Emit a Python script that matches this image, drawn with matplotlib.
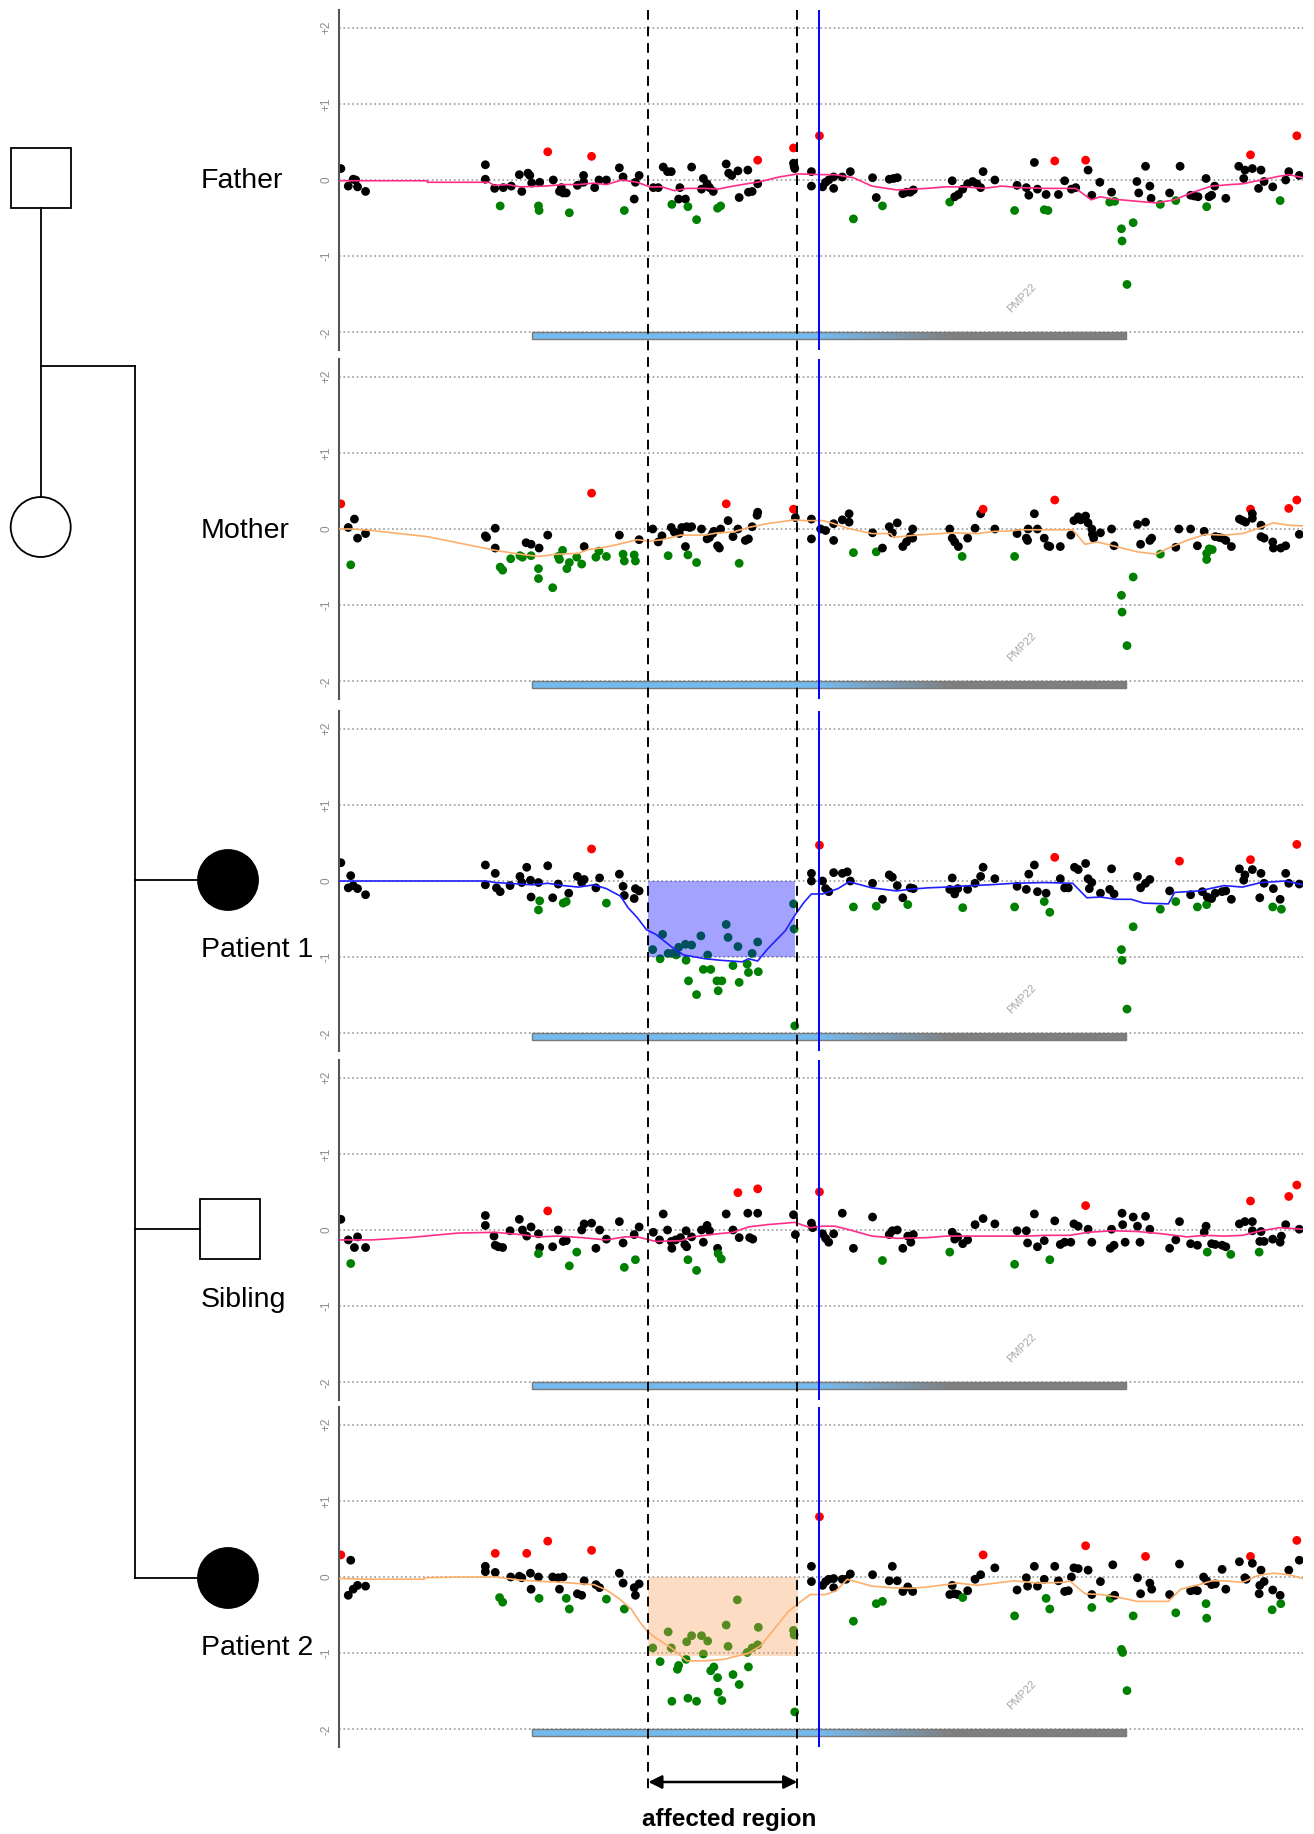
import numpy as np
import matplotlib.pyplot as plt
import matplotlib.transforms as mtransforms
from matplotlib.patches import Rectangle, Circle, FancyArrowPatch
from matplotlib.lines import Line2D

plt.rcParams['font.family'] = ['Liberation Sans', 'DejaVu Sans']

# probe position (array index units) and log2 ratio for each family member
father_probes = [
    (10, 0.15), (22, -0.08), (30, 0.01), (34, 0.00), (37, -0.09), (50, -0.15),
    (244, 0.20), (244, 0.01), (259, -0.11), (268, -0.34), (273, -0.10), (286, -0.08),
    (299, 0.07), (303, -0.15), (313, 0.09), (316, 0.06), (319, -0.04), (330, -0.34),
    (331, -0.40), (332, -0.03), (345, 0.37), (354, 0.00), (364, -0.15), (367, -0.10),
    (370, -0.17), (375, -0.17), (380, -0.43), (393, -0.07), (403, 0.06), (403, -0.03),
    (416, 0.31), (421, -0.10), (428, 0.00), (440, 0.00), (461, 0.16), (467, 0.04),
    (469, -0.40), (485, -0.25), (487, -0.03), (493, 0.06),
    (516, -0.10), (524, -0.10), (532, 0.17), (539, 0.11), (545, 0.11), (546, -0.32),
    (557, -0.25), (559, -0.10), (568, -0.25), (572, -0.35), (578, 0.17), (586, -0.52),
    (594, -0.12), (597, 0.02), (603, -0.05), (607, -0.10), (613, -0.15), (620, -0.37),
    (625, -0.34), (634, 0.21), (638, 0.09), (643, 0.06), (653, 0.12), (655, -0.23),
    (669, 0.13), (670, -0.16), (676, -0.15), (685, 0.26), (685, -0.05),
    (743, 0.42), (743, 0.22), (744, 0.18), (745, 0.15), (772, 0.11), (772, -0.08),
    (785, 0.58), (790, -0.09), (795, -0.03), (800, 0.00), (808, 0.04), (808, -0.11),
    (822, 0.04), (835, 0.11), (840, -0.51), (871, 0.03), (877, -0.23), (887, -0.34),
    (898, 0.01), (905, 0.02), (911, 0.03), (920, -0.18), (926, -0.16), (932, -0.16),
    (937, -0.13), (996, -0.29), (1000, -0.01), (1004, -0.22), (1010, -0.19), (1017, -0.12),
    (1025, -0.05), (1033, -0.02), (1040, -0.05), (1046, -0.10), (1050, 0.11), (1069, 0.00),
    (1101, -0.40), (1105, -0.07), (1120, -0.10), (1124, -0.20), (1133, 0.23), (1138, -0.12),
    (1149, -0.39), (1152, -0.19), (1155, -0.40), (1166, 0.25), (1172, -0.19), (1182, -0.01),
    (1193, -0.12), (1200, -0.10), (1216, 0.26), (1220, 0.13), (1226, -0.20), (1239, -0.03),
    (1255, -0.29), (1258, -0.16), (1263, -0.28), (1274, -0.64), (1275, -0.80), (1283, -1.37),
    (1293, -0.56), (1299, -0.02), (1302, -0.17), (1313, 0.18), (1320, -0.08), (1322, -0.24),
    (1337, -0.32), (1352, -0.17), (1362, -0.27), (1369, 0.18), (1386, -0.20), (1392, -0.21),
    (1398, -0.22), (1411, 0.02), (1412, -0.35), (1416, -0.22), (1420, -0.20), (1425, -0.08),
    (1443, -0.24), (1464, 0.18), (1472, 0.02), (1474, 0.13), (1483, 0.33), (1486, 0.15),
    (1496, -0.11), (1500, 0.13), (1505, -0.02), (1519, -0.09), (1531, -0.27), (1540, 0.00),
    (1545, 0.11), (1558, 0.58), (1562, 0.06),
]

mother_probes = [
    (10, 0.33), (22, 0.02), (26, -0.47), (32, 0.13), (37, -0.12), (50, -0.06),
    (244, -0.09), (246, -0.11), (260, 0.01), (260, -0.25), (268, -0.50), (272, -0.54),
    (285, -0.39), (300, -0.35), (304, -0.37), (310, -0.18), (318, -0.20), (318, -0.35),
    (330, -0.52), (331, -0.25), (330, -0.65), (345, -0.08), (353, -0.77), (362, -0.36),
    (364, -0.40), (369, -0.28), (376, -0.52), (380, -0.44), (392, -0.37), (400, -0.46),
    (404, -0.23), (416, 0.47), (423, -0.37), (428, -0.29), (440, -0.36), (461, -0.08),
    (467, -0.33), (469, -0.42), (485, -0.34), (487, -0.42), (493, -0.14),
    (515, 0.00), (524, -0.17), (530, -0.09), (540, -0.35), (545, 0.02), (550, -0.04),
    (558, -0.06), (562, 0.02), (570, 0.03), (568, -0.23), (575, 0.02), (578, 0.03),
    (572, -0.34), (586, -0.44), (594, 0.00), (603, -0.13), (607, -0.11), (612, -0.06),
    (614, -0.03), (620, -0.22), (623, -0.25), (625, 0.00), (634, 0.33), (637, 0.11),
    (645, -0.10), (653, 0.00), (655, -0.45), (665, -0.15), (670, -0.13), (676, 0.03),
    (685, 0.22), (684, 0.18), (743, 0.26), (746, 0.15), (772, -0.13), (772, 0.13),
    (787, 0.00), (795, -0.02), (808, 0.07), (808, -0.15), (822, 0.12), (833, 0.20),
    (833, 0.09), (840, -0.31), (871, -0.05), (877, -0.30), (887, -0.25), (898, 0.03),
    (903, -0.05), (911, 0.08), (920, -0.23), (926, -0.17), (932, -0.10), (936, 0.00),
    (936, -0.12), (996, 0.00), (1000, -0.12), (1004, -0.17), (1010, -0.23), (1016, -0.36),
    (1025, -0.12), (1037, 0.01), (1046, 0.20), (1050, 0.26), (1069, 0.00), (1101, -0.36),
    (1105, -0.06), (1120, -0.12), (1122, -0.15), (1123, 0.00), (1133, 0.20), (1138, 0.00),
    (1149, -0.12), (1155, -0.22), (1158, -0.23), (1166, 0.38), (1175, -0.23), (1192, -0.08),
    (1197, 0.11), (1204, 0.16), (1208, 0.12), (1216, 0.17), (1220, 0.08), (1226, 0.00),
    (1227, -0.07), (1229, -0.12), (1240, -0.05), (1258, 0.00), (1262, -0.22), (1274, -0.87),
    (1275, -1.09), (1283, -1.53), (1293, -0.63), (1300, 0.06), (1305, -0.20), (1313, 0.09),
    (1320, -0.15), (1323, -0.12), (1337, -0.33), (1362, -0.24), (1367, 0.00), (1386, 0.00),
    (1397, -0.22), (1408, -0.03), (1412, -0.32), (1412, -0.40), (1416, -0.26), (1421, -0.27),
    (1426, -0.10), (1432, -0.11), (1437, -0.12), (1443, -0.15), (1452, -0.23), (1465, 0.13),
    (1470, 0.11), (1475, 0.09), (1483, 0.26), (1486, 0.20), (1486, 0.14), (1500, 0.05),
    (1500, -0.10), (1505, -0.12), (1519, -0.17), (1520, -0.25), (1532, -0.25), (1540, -0.22),
    (1545, 0.27), (1558, 0.38), (1562, -0.07),
]

patient1_probes = [
    (10, 0.24), (22, -0.09), (26, 0.07), (30, -0.06), (37, -0.10), (50, -0.18),
    (244, 0.21), (244, -0.05), (260, 0.10), (262, -0.09), (268, -0.14), (284, -0.06),
    (300, 0.06), (303, -0.02), (311, 0.18), (317, 0.01), (318, -0.21), (330, -0.02),
    (332, -0.26), (330, -0.38), (345, 0.20), (353, -0.22), (362, -0.04), (370, -0.29),
    (375, -0.27), (379, -0.16), (393, 0.06), (400, -0.02), (404, 0.02), (416, 0.42),
    (423, -0.09), (429, 0.04), (440, -0.29), (461, 0.09), (467, -0.07), (469, -0.19),
    (485, -0.23), (487, -0.10), (493, -0.13),
    (515, -0.90), (527, -1.02), (531, -0.70), (540, -0.95), (547, -0.95), (553, -0.97),
    (557, -0.87), (568, -0.83), (569, -1.04), (573, -1.31), (578, -0.84), (586, -1.49),
    (593, -0.72), (597, -1.16), (604, -0.97), (609, -1.16), (619, -1.31), (621, -1.44),
    (627, -1.31), (634, -0.57), (637, -0.74), (645, -1.11), (653, -0.86), (655, -1.33),
    (668, -1.09), (670, -1.20), (676, -0.95), (685, -0.80), (686, -1.19), (743, -0.30),
    (744, -0.63), (745, -1.90),
    (772, 0.10), (772, 0.00), (785, 0.47), (790, 0.00), (795, -0.10), (800, -0.14),
    (808, 0.11), (822, 0.10), (830, 0.12), (835, 0.00), (840, -0.34), (871, -0.03),
    (877, -0.33), (887, -0.24), (898, 0.08), (903, 0.05), (911, -0.06), (920, -0.22),
    (928, -0.31), (932, -0.09), (937, -0.10), (996, -0.11), (1000, 0.04), (1004, -0.17),
    (1009, -0.10), (1017, -0.35), (1025, -0.11), (1037, -0.03), (1046, 0.06), (1050, 0.18),
    (1069, 0.03), (1101, -0.34), (1105, -0.07), (1120, -0.11), (1124, 0.09), (1133, 0.21),
    (1138, -0.14), (1149, -0.27), (1152, -0.16), (1158, -0.41), (1166, 0.31), (1175, 0.03),
    (1182, -0.09), (1188, -0.09), (1198, 0.18), (1204, 0.15), (1216, 0.23), (1220, 0.03),
    (1222, -0.10), (1226, -0.02), (1240, -0.16), (1255, -0.11), (1258, 0.16), (1262, -0.17),
    (1274, -0.90), (1275, -1.04), (1283, -1.68), (1293, -0.60), (1300, 0.06), (1305, -0.09),
    (1313, -0.03), (1320, 0.02), (1337, -0.37), (1352, -0.13), (1362, -0.27), (1368, 0.26),
    (1386, -0.18), (1397, -0.34), (1405, -0.14), (1412, -0.31), (1413, -0.21), (1420, -0.23),
    (1426, -0.16), (1437, -0.14), (1443, -0.13), (1452, -0.24), (1465, 0.16), (1472, 0.01),
    (1474, 0.08), (1483, 0.28), (1486, 0.15), (1498, -0.22), (1500, 0.10), (1505, -0.03),
    (1519, -0.34), (1520, -0.10), (1531, -0.24), (1533, -0.37), (1540, 0.10), (1545, -0.03),
    (1558, 0.48), (1562, -0.04),
]

sibling_probes = [
    (10, 0.14), (22, -0.13), (26, -0.44), (32, -0.23), (37, -0.09), (50, -0.23),
    (244, 0.19), (244, 0.06), (258, -0.08), (260, -0.20), (265, -0.22), (272, -0.23),
    (284, -0.01), (299, 0.14), (304, 0.00), (311, -0.08), (318, 0.04), (330, -0.05),
    (332, -0.23), (330, -0.31), (345, 0.25), (353, -0.22), (362, 0.00), (370, -0.15),
    (375, -0.14), (380, -0.47), (392, -0.29), (400, 0.00), (404, 0.08), (416, 0.09),
    (423, -0.24), (429, 0.00), (440, -0.12), (461, 0.11), (467, -0.17), (469, -0.49),
    (485, -0.06), (487, -0.39), (493, 0.04),
    (516, -0.03), (526, -0.13), (532, 0.21), (539, 0.00), (545, -0.15), (546, -0.24),
    (552, -0.13), (560, -0.10), (567, -0.19), (569, -0.01), (570, -0.22), (572, -0.39),
    (578, -0.09), (586, -0.53), (594, 0.00), (597, -0.16), (603, 0.06), (607, -0.01),
    (620, -0.24), (621, -0.31), (626, -0.38), (634, 0.21), (645, 0.00), (653, 0.49),
    (655, -0.10), (669, 0.22), (672, -0.10), (677, -0.12), (685, 0.54), (685, 0.22),
    (743, 0.20), (746, -0.06), (772, 0.09), (774, 0.03), (785, 0.50), (790, -0.05),
    (795, -0.11), (800, -0.16), (808, -0.05), (822, 0.22), (840, -0.24), (871, 0.17),
    (887, -0.40), (898, -0.06), (903, -0.01), (911, 0.00), (920, -0.24), (928, -0.08),
    (933, -0.16), (937, -0.06), (996, -0.29), (1000, -0.03), (1004, -0.12), (1009, -0.09),
    (1017, -0.18), (1025, -0.13), (1037, 0.07), (1050, 0.15), (1069, 0.08), (1101, -0.45),
    (1105, -0.01), (1120, -0.01), (1122, -0.17), (1133, 0.21), (1138, -0.22), (1149, -0.14),
    (1158, -0.39), (1166, 0.12), (1175, -0.19), (1182, -0.16), (1192, -0.16), (1197, 0.08),
    (1204, 0.05), (1216, 0.32), (1220, 0.01), (1226, -0.16), (1258, 0.01), (1256, -0.24),
    (1262, -0.20), (1275, 0.22), (1276, 0.07), (1280, -0.16), (1293, 0.17), (1300, 0.05),
    (1304, -0.16), (1313, 0.18), (1320, 0.01), (1352, -0.24), (1362, -0.13), (1368, 0.11),
    (1386, -0.18), (1397, -0.20), (1408, -0.03), (1411, 0.05), (1413, -0.29), (1420, -0.18),
    (1426, -0.19), (1437, -0.20), (1443, -0.22), (1451, -0.32), (1465, 0.08), (1474, 0.11),
    (1483, 0.38), (1486, 0.11), (1486, -0.01), (1497, -0.29), (1498, -0.15), (1500, -0.02),
    (1505, -0.15), (1519, -0.12), (1531, -0.16), (1533, -0.08), (1540, 0.07), (1545, 0.44),
    (1558, 0.59), (1562, 0.01),
]

patient2_probes = [
    (10, 0.29), (22, -0.24), (26, 0.22), (30, -0.16), (37, -0.11), (50, -0.12),
    (244, 0.14), (244, 0.07), (260, 0.31), (260, 0.06), (267, -0.27), (272, -0.33),
    (285, 0.00), (299, 0.01), (303, -0.01), (311, 0.31), (317, 0.05), (318, -0.16),
    (330, 0.00), (331, -0.28), (345, 0.47), (353, 0.00), (362, -0.01), (364, -0.16),
    (370, 0.00), (375, -0.28), (380, -0.42), (393, -0.22), (400, -0.24), (404, -0.05),
    (416, 0.35), (423, -0.10), (429, -0.14), (440, -0.29), (461, 0.05), (467, -0.08),
    (469, -0.42), (485, -0.14), (487, -0.24), (493, -0.09),
    (515, -0.93), (527, -1.11), (540, -0.72), (545, -0.93), (555, -1.21), (557, -1.16),
    (546, -1.63), (569, -1.08), (570, -0.85), (572, -1.59), (578, -0.77), (586, -1.63),
    (594, -0.77), (597, -1.01), (604, -0.84), (609, -1.23), (614, -1.18), (620, -1.32),
    (621, -1.51), (627, -1.62), (634, -0.63), (637, -0.91), (645, -1.28), (652, -0.30),
    (655, -1.41), (668, -0.99), (670, -1.18), (676, -0.93), (685, -0.89), (686, -0.66),
    (743, -0.70), (744, -0.76), (745, -1.77),
    (772, 0.14), (772, -0.06), (785, 0.79), (790, -0.11), (795, -0.06), (800, -0.03),
    (808, -0.14), (808, -0.02), (822, -0.03), (828, -0.03), (835, 0.04), (840, -0.58),
    (871, 0.03), (877, -0.35), (887, -0.32), (898, -0.05), (903, 0.14), (911, -0.05),
    (920, -0.19), (928, -0.13), (936, -0.19), (996, -0.23), (1000, -0.11), (1004, -0.22),
    (1009, -0.23), (1017, -0.27), (1025, -0.18), (1037, -0.03), (1046, 0.03), (1050, 0.29),
    (1069, 0.12), (1101, -0.51), (1105, -0.17), (1120, -0.01), (1122, -0.12), (1133, 0.14),
    (1138, -0.12), (1149, -0.03), (1152, -0.28), (1158, -0.42), (1166, 0.14), (1172, -0.05),
    (1182, -0.19), (1188, -0.18), (1193, 0.00), (1197, 0.12), (1204, 0.11), (1216, 0.41),
    (1220, 0.09), (1226, -0.23), (1226, -0.40), (1240, -0.06), (1256, -0.28), (1260, 0.16),
    (1263, -0.24), (1274, -0.95), (1276, -0.99), (1283, -1.49), (1293, -0.51), (1300, -0.01),
    (1305, -0.22), (1313, 0.27), (1320, -0.08), (1323, -0.16), (1352, -0.23), (1362, -0.47),
    (1368, 0.17), (1386, -0.18), (1392, -0.17), (1397, -0.18), (1407, 0.00), (1411, -0.35),
    (1412, -0.54), (1412, -0.05), (1420, -0.10), (1426, -0.09), (1437, 0.10), (1443, -0.16),
    (1465, 0.20), (1474, -0.01), (1476, -0.03), (1483, 0.27), (1486, 0.18), (1497, -0.22),
    (1498, -0.11), (1500, 0.09), (1505, -0.06), (1518, -0.43), (1519, -0.17), (1531, -0.24),
    (1532, -0.35), (1545, 0.09), (1558, 0.48), (1562, 0.22),
]

# segmentation / smoothed trace
father_trace = [
    (7, -0.01), (150, -0.01), (150, -0.03), (250, -0.03), (258, -0.07), (280, -0.06),
    (300, -0.09), (340, -0.08), (370, -0.06), (395, -0.06), (420, -0.04), (440, -0.06),
    (465, 0.00), (490, -0.03), (510, -0.09), (530, -0.09), (550, -0.14), (570, -0.11),
    (600, -0.11), (620, -0.12), (645, -0.08), (690, -0.02), (720, 0.04), (750, 0.08),
    (790, 0.07), (810, 0.07), (840, 0.03), (870, -0.08), (910, -0.13), (960, -0.11),
    (990, -0.09), (1020, -0.09), (1050, -0.11), (1080, -0.08), (1110, -0.10), (1150, -0.11),
    (1200, -0.11), (1225, -0.26), (1240, -0.22), (1260, -0.25), (1300, -0.28), (1330, -0.30),
    (1360, -0.26), (1390, -0.16), (1420, -0.08), (1450, -0.06), (1470, -0.05), (1500, 0.00),
    (1530, 0.05), (1545, 0.07), (1568, 0.03),
]
mother_trace = [
    (7, 0.00), (30, 0.00), (60, -0.02), (150, -0.10), (260, -0.28), (300, -0.33),
    (330, -0.36), (360, -0.33), (395, -0.32), (410, -0.27), (430, -0.25), (460, -0.20),
    (490, -0.14), (510, -0.16), (530, -0.14), (560, -0.08), (600, -0.08), (620, -0.05),
    (645, -0.04), (670, 0.02), (700, 0.07), (745, 0.12), (760, 0.11), (790, 0.11),
    (805, 0.08), (830, 0.01), (870, -0.06), (900, -0.06), (905, -0.11), (940, -0.08),
    (980, -0.06), (1000, -0.05), (1040, -0.06), (1070, -0.03), (1090, -0.03), (1110, -0.01),
    (1150, -0.01), (1195, -0.01), (1215, -0.20), (1235, -0.17), (1260, -0.22), (1300, -0.30),
    (1330, -0.33), (1350, -0.25), (1380, -0.15), (1410, -0.07), (1440, -0.08), (1470, -0.06),
    (1500, 0.02), (1520, 0.08), (1545, 0.05), (1568, 0.04),
]
patient1_trace = [
    (7, 0.00), (245, 0.00), (260, -0.02), (300, -0.04), (320, -0.05), (345, -0.03),
    (370, -0.06), (395, -0.08), (420, -0.05), (440, -0.10), (463, -0.20), (475, -0.35),
    (490, -0.48), (505, -0.64), (520, -0.70), (545, -0.86), (565, -0.97), (600, -1.02),
    (625, -1.04), (660, -1.06), (670, -1.02), (685, -1.05), (700, -0.90), (730, -0.65),
    (745, -0.45), (760, -0.28), (772, -0.17), (790, -0.17), (815, -0.10), (833, -0.01),
    (870, -0.09), (910, -0.13), (930, -0.11), (960, -0.09), (990, -0.08), (1030, -0.06),
    (1060, -0.05), (1100, -0.03), (1150, -0.02), (1195, -0.03), (1218, -0.22), (1240, -0.21),
    (1265, -0.24), (1290, -0.24), (1310, -0.29), (1350, -0.30), (1360, -0.15), (1400, -0.13),
    (1440, -0.06), (1470, -0.08), (1500, -0.02), (1540, 0.00), (1568, -0.05),
]
sibling_trace = [
    (7, -0.13), (60, -0.13), (120, -0.10), (200, -0.04), (260, -0.03), (300, -0.06),
    (330, -0.09), (360, -0.08), (400, -0.10), (440, -0.13), (470, -0.09), (490, -0.09),
    (520, -0.15), (560, -0.14), (580, -0.09), (620, -0.05), (645, -0.03), (670, 0.04),
    (700, 0.07), (745, 0.10), (770, 0.03), (790, 0.05), (810, 0.05), (830, 0.01),
    (870, -0.08), (900, -0.10), (910, -0.11), (960, -0.10), (990, -0.08), (1020, -0.08),
    (1060, -0.08), (1090, -0.08), (1120, -0.08), (1150, -0.07), (1190, -0.07), (1220, -0.03),
    (1260, -0.01), (1300, -0.02), (1340, -0.05), (1380, -0.09), (1410, -0.07), (1440, -0.08),
    (1470, -0.07), (1500, -0.01), (1530, 0.03), (1568, 0.01),
]
patient2_trace = [
    (7, -0.02), (60, -0.03), (145, -0.03), (145, -0.01), (210, 0.00), (260, 0.00),
    (300, -0.04), (340, -0.06), (370, -0.07), (400, -0.09), (420, -0.10), (440, -0.17),
    (460, -0.28), (480, -0.42), (495, -0.60), (505, -0.70), (520, -0.80), (545, -0.93),
    (570, -1.10), (600, -1.10), (630, -1.08), (655, -1.03), (670, -1.00), (690, -0.90),
    (710, -0.70), (735, -0.45), (750, -0.35), (770, -0.23), (795, -0.23), (812, -0.18),
    (830, -0.03), (870, -0.12), (900, -0.14), (930, -0.15), (960, -0.13), (990, -0.10),
    (1010, -0.08), (1040, -0.11), (1070, -0.08), (1100, -0.05), (1140, -0.08), (1180, -0.07),
    (1190, -0.05), (1215, -0.22), (1240, -0.23), (1265, -0.26), (1300, -0.32), (1350, -0.32),
    (1370, -0.16), (1400, -0.10), (1420, -0.05), (1440, -0.05), (1470, -0.07), (1495, 0.02),
    (1520, 0.05), (1545, 0.03), (1568, -0.02),
]

# called deletions: (start, end, level)
patient1_call = (508, 745, -1.00)
patient2_call = (508, 750, -1.03)

gene_name = 'PMP22'
gene_span = (319, 1281)
marker_pos = 785
region_bounds = (508, 749)
RED_CUT, GREEN_CUT = 0.25, -0.26

members = ['Father', 'Mother', 'Patient 1', 'Sibling', 'Patient 2']
probes = [father_probes, mother_probes, patient1_probes, sibling_probes, patient2_probes]
traces = [father_trace, mother_trace, patient1_trace, sibling_trace, patient2_trace]
calls = [None, None, patient1_call, None, patient2_call]
trace_colors = ['#ff2d8a', '#fdae6b', '#2020ff', '#ff2d8a', '#fdae6b']
call_colors = [None, None, (0.0, 0.0, 1.0, 0.36), None, (0.97, 0.64, 0.36, 0.36)]

W, H = 1314, 1834
fig = plt.figure(figsize=(W / 100, H / 100), dpi=100)


def fx(px):
    return px / W


def fy(py):
    return 1 - py / H


# pedigree drawn in pixel space
ped = fig.add_axes([0, 0, 1, 1])
ped.set_xlim(0, W)
ped.set_ylim(H, 0)
ped.axis('off')
lw = 1.3
ped.add_patch(Rectangle((10.7, 147.7), 60, 60, fill=False, lw=lw, ec='black'))
ped.add_patch(Circle((40.7, 527), 30, fill=False, lw=lw, ec='black'))
ped.plot([40.7, 40.7], [207.7, 497], color='black', lw=lw)
ped.plot([40.7, 135], [366, 366], color='black', lw=lw)
ped.plot([135, 135], [366, 1578], color='black', lw=lw)
ped.plot([135, 198], [880, 880], color='black', lw=lw)
ped.add_patch(Circle((228, 880), 30, fc='black', ec='black', lw=lw))
ped.plot([135, 200], [1229, 1229], color='black', lw=lw)
ped.add_patch(Rectangle((200, 1199), 60, 60, fc='white', ec='black', lw=lw))
ped.plot([135, 198], [1578, 1578], color='black', lw=lw)
ped.add_patch(Circle((228, 1578), 30, fc='black', ec='black', lw=lw))

label_y = [188, 538, 957, 1307, 1655]
for name, ly in zip(members, label_y):
    ped.text(201, ly, name, fontsize=20.5, va='baseline', ha='left')

# one track per family member
zero_rows = [180, 529, 881, 1230, 1577]
axes = []
for i, zr in enumerate(zero_rows):
    ax = fig.add_axes([fx(339), fy(zr + 170), (1303 - 339) / W, 340 / H])
    axes.append(ax)
    ax.patch.set_alpha(0)
    for side in ['top', 'right', 'bottom']:
        ax.spines[side].set_visible(False)
    ax.spines['left'].set_color('#555555')
    ax.spines['left'].set_linewidth(1.5)
    ax.set_xticks([])
    ax.set_yticks([-2, -1, 0, 1, 2])
    ax.set_yticklabels(['-2', '-1', '0', '+1', '+2'], rotation=90, va='center',
                       color='#8c8c8c', fontsize=8.5)
    ax.tick_params(axis='y', length=0, pad=5)
    for v in [-2, -1, 0, 1, 2]:
        ax.axhline(v, color='#9a9a9a', lw=1.2, ls=':', zorder=0)

    # gene bar with blue-to-grey gradient
    gx = np.linspace(gene_span[0], gene_span[1], 400)
    t = np.clip((gx - marker_pos) / (1000 - marker_pos), 0, 1)[:, None]
    c0 = np.array([0.46, 0.73, 0.94])
    c1 = np.array([0.50, 0.50, 0.50])
    grad = (c0 * (1 - t) + c1 * t)[None, :, :]
    ax.imshow(grad, extent=(gene_span[0], gene_span[1], -2.09, -2.0),
              aspect='auto', zorder=1, interpolation='bilinear')
    ax.add_patch(Rectangle((gene_span[0], -2.09), gene_span[1] - gene_span[0], 0.09,
                           fill=False, ec='#7a7a7a', lw=1.0, zorder=1.5))
    ax.text(1113, -1.55, gene_name, rotation=45, color='#a8a8a8', fontsize=8,
            ha='center', va='center')

    pts = np.array(probes[i])
    x, y = pts[:, 0], pts[:, 1]
    cols = np.where(y >= RED_CUT, '#ff0000', np.where(y <= GREEN_CUT, '#008000', '#000000'))
    ax.scatter(x, y, s=40, c=cols, linewidths=0, zorder=2)

    if calls[i] is not None:
        x0, x1, lvl = calls[i]
        ax.add_patch(Rectangle((x0, lvl), x1 - x0, -lvl, fc=call_colors[i], lw=0, zorder=3))

    tr = np.array(traces[i])
    ax.plot(tr[:, 0], tr[:, 1], color=trace_colors[i], lw=1.2, zorder=4)
    ax.axvline(marker_pos, color='#0000ff', lw=1.4, zorder=5)

    ax.set_xlim(7, 1568)
    ax.set_ylim(-2.23, 2.23)

# affected region spanning all tracks
blend = mtransforms.blended_transform_factory(axes[0].transData, fig.transFigure)
for xb in region_bounds:
    fig.add_artist(Line2D([xb, xb], [fy(10), fy(1795)], transform=blend,
                          color='black', lw=1.4, ls=(0, (5, 3.5))))
fig.add_artist(FancyArrowPatch((region_bounds[0], fy(1782)), (region_bounds[1], fy(1782)),
                               transform=blend, arrowstyle='<|-|>', mutation_scale=20,
                               color='black', lw=1.8, shrinkA=0, shrinkB=0))
fig.text(fx(729), fy(1826), 'affected region', fontsize=17.5, fontweight='bold',
         ha='center', va='baseline')

fig.savefig('out.png', dpi=100)
